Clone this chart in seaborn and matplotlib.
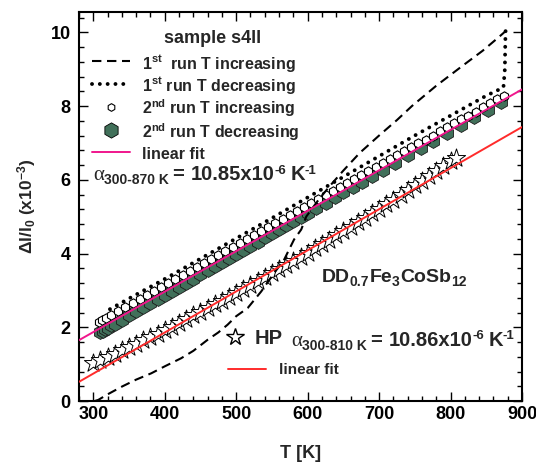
import matplotlib
matplotlib.use('Agg')
import matplotlib.pyplot as plt
import seaborn as sns
from matplotlib.lines import Line2D
from matplotlib.ticker import MultipleLocator
from matplotlib.transforms import IdentityTransform

# ---------------- data ----------------
# 1st run, T increasing (dashed)
run1_inc_T = [302, 307, 320, 340, 360, 381, 400, 423, 440, 460, 475, 488, 500, 516,
              535, 553, 567, 581, 591, 598, 615, 631, 650, 673, 700, 725, 746, 780,
              816, 845, 867, 877]
run1_inc_y = [0.00, 0.03, 0.18, 0.39, 0.58, 0.75, 0.94, 1.16, 1.36, 1.66, 1.86, 2.07,
              2.30, 2.52, 2.97, 3.47, 3.83, 4.38, 4.65, 5.00, 5.45, 5.83, 6.25, 6.73,
              7.20, 7.62, 8.00, 8.55, 9.08, 9.50, 9.86, 10.03]

# 1st run, T decreasing (dotted)
run1_dec_T = [877, 876.5, 876, 874, 865, 850, 800, 750, 700, 650, 600, 550, 500, 450,
              400, 350, 314]
run1_dec_y = [10.03, 9.60, 9.00, 8.50, 8.42, 8.28, 7.74, 7.20, 6.64, 6.08, 5.52, 4.96,
              4.41, 3.86, 3.31, 2.78, 2.39]

# 2nd run, T increasing (open hexagons)
run2_inc_T = [308, 312, 318, 325, 335, 345, 355, 365, 375, 385, 395, 405, 415, 425,
              435, 445, 455, 465, 475, 485, 495, 505, 515, 525, 535, 545, 555, 565,
              575, 585, 595, 605, 615, 625, 635, 645, 655, 665, 675, 685, 695, 705,
              715, 725, 735, 745, 755, 765, 775, 785, 795, 805, 815, 825, 835, 845,
              855, 865, 875]
run2_inc_y = [2.15, 2.19, 2.26, 2.33, 2.44, 2.55, 2.66, 2.77, 2.87, 2.98, 3.09, 3.20,
              3.31, 3.42, 3.52, 3.63, 3.74, 3.85, 3.96, 4.07, 4.17, 4.28, 4.39, 4.50,
              4.61, 4.71, 4.82, 4.93, 5.04, 5.15, 5.26, 5.36, 5.47, 5.58, 5.69, 5.80,
              5.90, 6.01, 6.12, 6.23, 6.34, 6.45, 6.55, 6.66, 6.77, 6.88, 6.99, 7.09,
              7.20, 7.31, 7.42, 7.53, 7.64, 7.74, 7.85, 7.96, 8.07, 8.18, 8.28]

# 2nd run, T decreasing (filled green hexagons)
run2_dec_T = [310, 313, 316, 320, 325, 330, 340, 350, 360, 370, 380, 390, 400, 410,
              420, 430, 440, 450, 460, 470, 480, 490, 500, 510, 520, 530, 540, 550,
              560, 570, 580, 590, 600, 612, 625, 638, 650, 663, 676, 690, 705, 722,
              740, 758, 776, 795, 814, 833, 852, 870]
run2_dec_y = [1.88, 1.91, 1.95, 1.99, 2.05, 2.10, 2.21, 2.32, 2.44, 2.55, 2.66, 2.77,
              2.88, 2.99, 3.10, 3.21, 3.32, 3.44, 3.55, 3.66, 3.77, 3.88, 3.99, 4.10,
              4.21, 4.32, 4.44, 4.55, 4.66, 4.77, 4.88, 4.99, 5.10, 5.24, 5.38, 5.52,
              5.66, 5.80, 5.95, 6.10, 6.27, 6.46, 6.66, 6.86, 7.06, 7.27, 7.48, 7.69,
              7.90, 8.10]

# HP sample (open stars)
hp_T = [300, 310, 320, 330, 340, 350, 360, 370, 380, 390, 400, 410, 420, 430, 440,
        450, 460, 470, 480, 490, 500, 510, 520, 530, 540, 550, 560, 570, 580, 590,
        600, 610, 620, 630, 640, 650, 660, 670, 680, 690, 700, 710, 720, 730, 740,
        750, 760, 770, 780, 790, 800, 807]
hp_y = [1.02, 1.11, 1.20, 1.28, 1.37, 1.46, 1.55, 1.65, 1.74, 1.83, 1.93, 2.02,
        2.12, 2.22, 2.32, 2.42, 2.52, 2.62, 2.72, 2.82, 2.93, 3.03, 3.14, 3.25,
        3.35, 3.46, 3.57, 3.68, 3.80, 3.91, 4.02, 4.14, 4.25, 4.37, 4.49, 4.61,
        4.73, 4.85, 4.97, 5.09, 5.21, 5.34, 5.46, 5.59, 5.72, 5.85, 5.98, 6.11,
        6.24, 6.37, 6.50, 6.60]

# linear fits
fit_T = [280, 900]
fit_2nd_y = [1.65, 8.45]
fit_hp_y = [0.52, 7.43]

x_ticks = [300, 400, 500, 600, 700, 800, 900]
y_ticks = [0, 2, 4, 6, 8, 10]

# ---------------- style ----------------
sns.set_style('ticks')
plt.rcParams['font.family'] = ['Liberation Sans', 'DejaVu Sans']
plt.rcParams['font.weight'] = 'bold'
plt.rcParams['mathtext.fontset'] = 'custom'
plt.rcParams['mathtext.rm'] = 'Liberation Sans:bold'
plt.rcParams['mathtext.bf'] = 'Liberation Sans:bold'
plt.rcParams['mathtext.it'] = 'Liberation Sans:bold:italic'

GREEN = '#41705a'
PINK = '#f0168c'
RED = '#ff2b2b'
DASH = (0, (4.5, 2.7))
DOT = (0, (0.01, 2.0))

W, H = 536, 462
fig = plt.figure(figsize=(W / 100, H / 100), dpi=100)
ax = fig.add_axes([79 / W, 1 - 401 / H, (522 - 79) / W, (401 - 12) / H])

sns.scatterplot(x=run2_dec_T, y=run2_dec_y, marker='h', s=100, color=GREEN,
                edgecolor='#1a1a1a', linewidth=0.6, ax=ax, zorder=2)
sns.scatterplot(x=run2_inc_T, y=run2_inc_y, marker='h', s=45, color='white',
                edgecolor='black', linewidth=0.8, ax=ax, zorder=3)
sns.lineplot(x=run1_dec_T, y=run1_dec_y, sort=False, estimator=None, color='black',
             lw=2.8, linestyle=DOT, dash_capstyle='round', ax=ax, zorder=4)
sns.scatterplot(x=hp_T, y=hp_y, marker='*', s=190, color='white',
                edgecolor='black', linewidth=0.7, ax=ax, zorder=3)
sns.lineplot(x=run1_inc_T, y=run1_inc_y, sort=False, estimator=None, color='black',
             lw=1.5, linestyle=DASH, ax=ax, zorder=5)
sns.lineplot(x=fit_T, y=fit_2nd_y, sort=False, estimator=None, color=PINK, lw=1.4,
             ax=ax, zorder=6)
sns.lineplot(x=fit_T, y=fit_hp_y, sort=False, estimator=None, color=RED, lw=1.4,
             ax=ax, zorder=6)

ax.set_xlim(280, 900)
ax.set_ylim(0, 10.55)
ax.set_xticks(x_ticks)
ax.set_yticks(y_ticks)
ax.xaxis.set_minor_locator(MultipleLocator(20))
ax.yaxis.set_minor_locator(MultipleLocator(0.4))
ax.tick_params(which='both', direction='in', top=True, right=True, width=1.0,
               labelsize=13, colors='black')
ax.tick_params(which='major', length=6.5)
ax.tick_params(which='minor', length=3.5)
ax.tick_params(axis='y', pad=6)
for sp in ax.spines.values():
    sp.set_linewidth(1.5)
    sp.set_color('black')

ax.set_xlabel('T [K]', fontsize=13, fontweight='bold', labelpad=16)
ax.set_ylabel(r'$\Delta$l/l$_{\mathbf{0}}$ (x10$^{\mathbf{-3}}$)', fontsize=12.5,
              fontweight='bold', labelpad=9)

# ---------------- legends ----------------
h1 = [Line2D([], [], color='black', lw=1.5, ls=DASH),
      Line2D([], [], color='black', lw=2.8, ls=DOT, dash_capstyle='round'),
      Line2D([], [], ls='none', marker='h', ms=5.5, mfc='white', mec='black', mew=0.8),
      Line2D([], [], ls='none', marker='h', ms=11, mfc=GREEN, mec='black', mew=0.6),
      Line2D([], [], color=PINK, lw=1.4)]
l1 = [r'1$^{\mathbf{st}}$  run T increasing', r'1$^{\mathbf{st}}$ run T decreasing',
      r'2$^{\mathbf{nd}}$ run T increasing', r'2$^{\mathbf{nd}}$ run T decreasing',
      'linear fit']
leg1 = ax.legend(h1, l1, loc='upper left', bbox_to_anchor=(92 / W, 1 - 52.5 / H),
                 bbox_transform=fig.transFigure, frameon=False, borderpad=0,
                 borderaxespad=0, handlelength=2.35, handletextpad=0.75,
                 handleheight=1.4, labelspacing=0.1,
                 prop={'size': 11.5, 'weight': 'bold'})
ax.add_artist(leg1)

leg2 = ax.legend([Line2D([], [], ls='none', marker='*', ms=13, mfc='white',
                         mec='black', mew=1.0)], ['HP'],
                 loc='center left', bbox_to_anchor=(225 / W, 1 - 339 / H),
                 bbox_transform=fig.transFigure, frameon=False, borderpad=0,
                 borderaxespad=0, handlelength=1.0, handletextpad=0.45,
                 prop={'size': 14.5, 'weight': 'bold'})
ax.add_artist(leg2)

leg3 = ax.legend([Line2D([], [], color=RED, lw=1.4)], ['linear fit'],
                 loc='center left', bbox_to_anchor=(228 / W, 1 - 370.5 / H),
                 bbox_transform=fig.transFigure, frameon=False, borderpad=0,
                 borderaxespad=0, handlelength=2.5, handletextpad=0.85,
                 prop={'size': 11, 'weight': 'bold'})

# ---------------- rich text annotations ----------------
renderer = fig.canvas.get_renderer()


def rich(x, y, parts):
    """parts: (text, size, dy_px_up, gap_px, family, weight)"""
    for s, size, dy, gap, fam, wt in parts:
        x += gap
        t = fig.text(x, H - y + dy, s, fontsize=size, family=fam, weight=wt,
                     transform=IdentityTransform(), ha='left', va='baseline')
        x += t.get_window_extent(renderer).width


SANS = ['Liberation Sans', 'DejaVu Sans']
SERIF = ['Liberation Serif', 'DejaVu Serif']

fig.text(213 / W, 1 - 42.7 / H, 'sample s4ll', fontsize=13, weight='bold',
         ha='center', va='baseline')


def alpha_line(x, y, rng, val):
    rich(x, y, [('\u03b1', 15, 0, 0, SERIF, 'normal'),
                (rng, 10, -3.5, 0, SANS, 'bold'),
                ('=', 14.5, 0, 3, SANS, 'bold'),
                (val + 'x10', 14.5, 0, 7, SANS, 'bold'),
                ('-6', 9.5, 7, 0, SANS, 'bold'),
                ('K', 14.5, 0, 4, SANS, 'bold'),
                ('-1', 9.5, 7, 0, SANS, 'bold')])


alpha_line(93, 180.5, '300-870 K', '10.85')
alpha_line(291, 346, '300-810 K', '10.86')

rich(322, 281.7, [('DD', 14, 0, 0, SANS, 'bold'),
                  ('0.7', 10, -4.5, 0, SANS, 'bold'),
                  ('Fe', 14, 0, 0, SANS, 'bold'),
                  ('3', 10, -4.5, 0, SANS, 'bold'),
                  ('CoSb', 14, 0, 0, SANS, 'bold'),
                  ('12', 10, -4.5, 0, SANS, 'bold')])

fig.savefig('out.png', dpi=100)
